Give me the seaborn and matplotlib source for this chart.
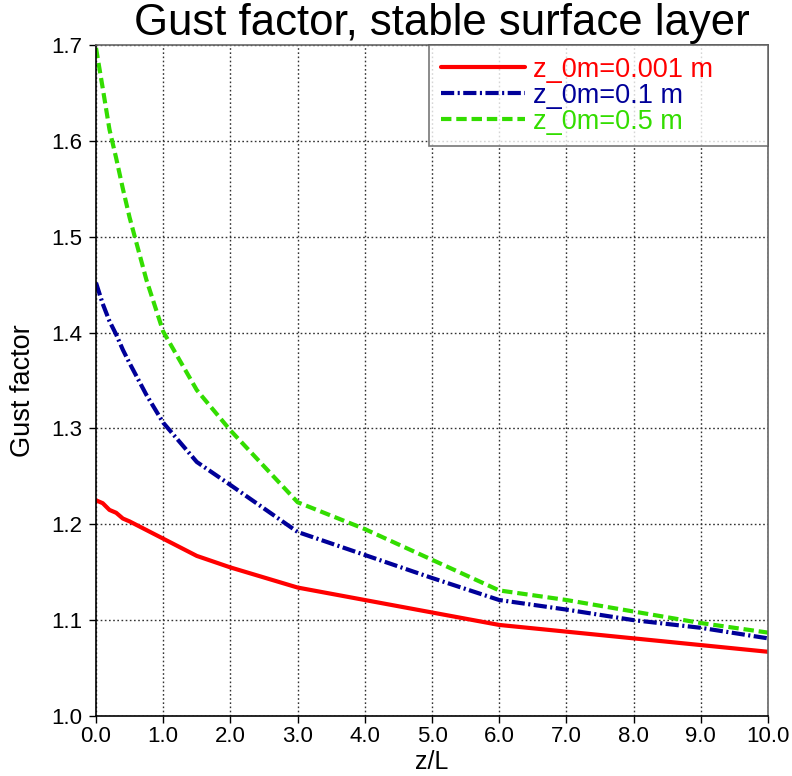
import matplotlib
matplotlib.use("Agg")
import matplotlib.pyplot as plt
import seaborn as sns
import pandas as pd
import numpy as np

x_vals = [0.0, 0.1, 0.2, 0.3, 0.4, 0.5, 0.75, 1.0, 1.5, 2.0, 3.0, 4.0, 5.0, 6.0, 7.0, 8.0, 9.0, 10.0]
gf_z0_0001 = [1.225, 1.222, 1.215, 1.212, 1.206, 1.203, 1.194, 1.185, 1.167, 1.155, 1.134, 1.121, 1.108, 1.095, 1.088, 1.081, 1.074, 1.067]
gf_z0_01 = [1.452, 1.430, 1.412, 1.398, 1.382, 1.368, 1.335, 1.306, 1.265, 1.241, 1.192, 1.168, 1.144, 1.121, 1.111, 1.100, 1.092, 1.081]
gf_z0_05 = [1.697, 1.655, 1.612, 1.582, 1.550, 1.520, 1.455, 1.401, 1.340, 1.298, 1.223, 1.195, 1.163, 1.131, 1.121, 1.109, 1.097, 1.087]
labels = ["z_0m=0.001 m", "z_0m=0.1 m", "z_0m=0.5 m"]
x_ticks = [0, 1, 2, 3, 4, 5, 6, 7, 8, 9, 10]
y_ticks = [1.0, 1.1, 1.2, 1.3, 1.4, 1.5, 1.6, 1.7]

sns.set_theme(style="white")
plt.rcParams['font.family'] = ['Liberation Sans', 'DejaVu Sans']
plt.rcParams['lines.scale_dashes'] = False
for k in ['text.color', 'axes.labelcolor', 'xtick.color', 'ytick.color']:
    plt.rcParams[k] = 'black'

fig = plt.figure(figsize=(7.92, 7.76), dpi=100)
ax = fig.add_axes([96/792, 1-716/776, (768-96)/792, (716-45)/776])

colors = ["#ff0000", "#000099", "#33dd00"]
styles = ["-", (0, (9.5, 2.5, 1.5, 2.5)), (0, (7.5, 3.5))]
series = [gf_z0_0001, gf_z0_01, gf_z0_05]

for vals, lab, c, ls in zip(series, labels, colors, styles):
    df = pd.DataFrame({"x": x_vals, "y": vals})
    sns.lineplot(data=df, x="x", y="y", ax=ax, color=c, linewidth=3, linestyle=ls, label=lab)

ax.set_xlim(0, 10)
ax.set_ylim(1.0, 1.7)
ax.set_xticks(x_ticks)
ax.set_yticks(y_ticks)
ax.set_xticklabels([f"{v:.1f}" for v in x_ticks], fontsize=16)
ax.set_yticklabels([f"{v:.1f}" for v in y_ticks], fontsize=16)
ax.tick_params(axis="both", direction="out", length=5, width=1, color="black", bottom=True, left=True)
ax.tick_params(axis="x", pad=2.5)
ax.tick_params(axis="y", pad=5)
ax.grid(True, linestyle=(0, (1.2, 1.8)), color="#333333", linewidth=1)

for side in ["left", "bottom"]:
    ax.spines[side].set_color("black")
    ax.spines[side].set_linewidth(1.2)
for side in ["top", "right"]:
    ax.spines[side].set_color("#666666")
    ax.spines[side].set_linewidth(1.2)

ax.set_xlabel("z/L", fontsize=18)
ax.xaxis.set_label_coords(0.5, -0.05)
ax.set_ylabel("Gust factor", fontsize=19.5)
ax.yaxis.label.set_va("center")
ax.yaxis.set_label_coords((23-96)/672, (716-391)/671)

leg = ax.legend(loc="upper left", bbox_to_anchor=((429-96)/672, 0.0, (768-429)/672, 1.0), mode="expand",
                fontsize=19.5, frameon=True, fancybox=False, edgecolor="#555555", borderaxespad=0,
                handlelength=3.1, labelspacing=0.0, borderpad=0.43, handletextpad=0.3)
leg.get_frame().set_linewidth(1.2)
for t, c in zip(leg.get_texts(), colors):
    t.set_color(c)

fig.text(442/792, 1-35/776, "Gust factor, stable surface layer", fontsize=31.5, ha="center", va="baseline")

fig.savefig("out.png", dpi=100, facecolor="white")
